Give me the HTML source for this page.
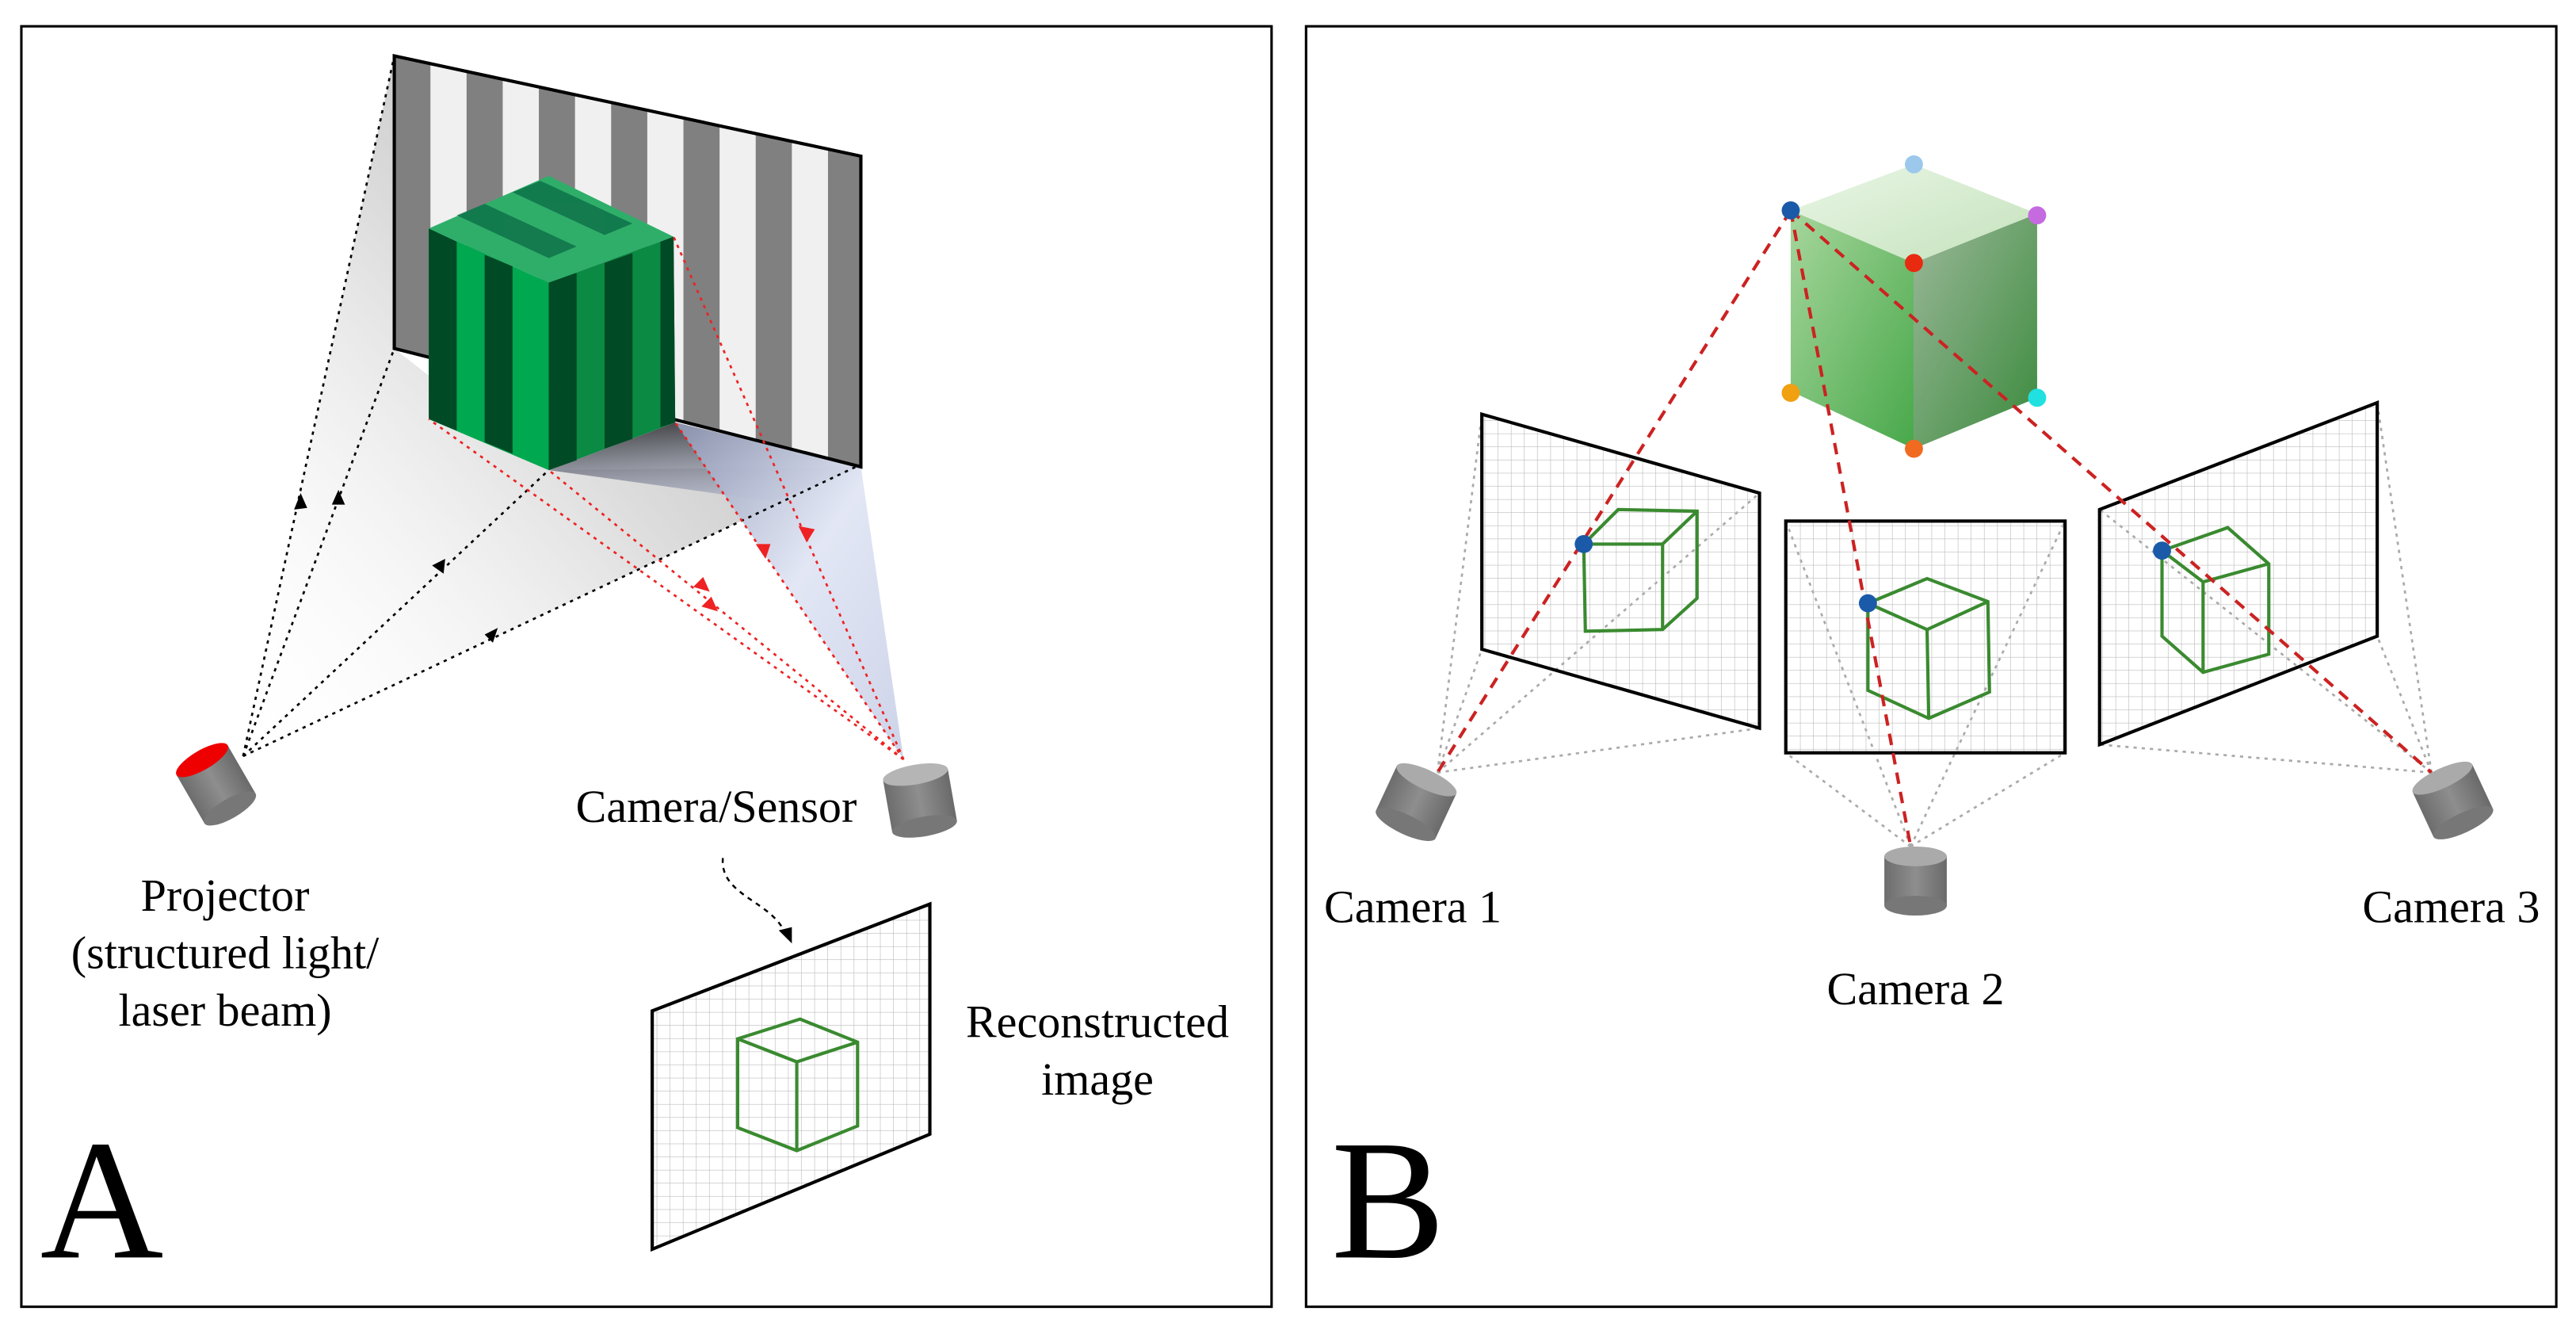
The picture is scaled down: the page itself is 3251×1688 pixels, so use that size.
<!DOCTYPE html>
<html><head><meta charset="utf-8"><style>
html,body{margin:0;padding:0;background:#fff}
svg{display:block}
text{font-family:"Liberation Serif",serif;fill:#000}
</style></head><body>
<svg width="3251" height="1688" viewBox="0 0 1568 814" preserveAspectRatio="none" xmlns="http://www.w3.org/2000/svg">
<defs>
<pattern id="grid" width="8" height="8" patternUnits="userSpaceOnUse">
<path d="M8 0V8M0 8H8" stroke="#bbb" stroke-width="0.6" fill="none"/>
</pattern>
<linearGradient id="shadowL" x1="1" y1="0" x2="0" y2="1">
<stop offset="0" stop-color="#999"/><stop offset="0.5" stop-color="#d6d6d6"/><stop offset="1" stop-color="#fff" stop-opacity="0"/>
</linearGradient>
<linearGradient id="floor" x1="0" y1="0" x2="0.3" y2="1">
<stop offset="0" stop-color="#333"/><stop offset="1" stop-color="#9aa0b8" stop-opacity="0.6"/>
</linearGradient>
<linearGradient id="camBeam" x1="0" y1="0" x2="1" y2="1">
<stop offset="0" stop-color="#9098b5"/><stop offset="0.5" stop-color="#dfe4f4"/><stop offset="1" stop-color="#c8cfe6"/>
</linearGradient>
<linearGradient id="gTop" x1="0" y1="0" x2="1" y2="1"><stop offset="0" stop-color="#eaf6e6"/><stop offset="1" stop-color="#c4e2bc"/></linearGradient>
<linearGradient id="gLeft" x1="0" y1="0" x2="1" y2="1"><stop offset="0" stop-color="#a6d69c"/><stop offset="1" stop-color="#48a84a"/></linearGradient>
<linearGradient id="gRight" x1="0" y1="0" x2="1" y2="1"><stop offset="0" stop-color="#9cb89a"/><stop offset="1" stop-color="#3a8a3c"/></linearGradient>
<linearGradient id="cyl" x1="0" y1="0" x2="1" y2="0"><stop offset="0" stop-color="#6d6d6d"/><stop offset="0.5" stop-color="#8e8e8e"/><stop offset="1" stop-color="#6a6a6a"/></linearGradient>
</defs>

<rect x="13" y="16" width="761" height="779" fill="#fff" stroke="#000" stroke-width="1.5"/>
<rect x="795" y="16" width="761" height="779" fill="#fff" stroke="#000" stroke-width="1.5"/>

<!-- ===== Panel A ===== -->
<polygon points="148,460 240,34 240,212 334,286 521,284" fill="url(#shadowL)" opacity="0.85"/>
<polygon points="334,286 411,257 524,284 470,305" fill="url(#floor)"/>
<polygon points="550,462 411,257 524,284" fill="url(#camBeam)" opacity="0.9"/>
<clipPath id="scr"><polygon points="240,34 524,95 524,284 240,212"/></clipPath>
<g clip-path="url(#scr)">
<rect x="240" y="30" width="290" height="260" fill="#f0f0f0"/>
<g fill="#808080">
<rect x="240" y="30" width="22" height="260"/><rect x="284" y="30" width="22" height="260"/>
<rect x="328" y="30" width="22" height="260"/><rect x="372" y="30" width="22" height="260"/>
<rect x="416" y="30" width="22" height="260"/><rect x="460" y="30" width="22" height="260"/>
<rect x="504" y="30" width="22" height="260"/>
</g>
<polygon points="411,257 524,284 524,300 411,300" fill="#333" opacity="0.7"/>
</g>
<polygon points="240,34 524,95 524,284 240,212" fill="none" stroke="#000" stroke-width="2"/>
<!-- cube A -->
<polygon points="261,139 334,107 410,144 334,172" fill="#2fae6a"/>
<polygon points="261,139 334,172 334,286 261,255" fill="#00a850"/>
<polygon points="334,172 410,144 411,257 334,286" fill="#0a8a42"/>
<g fill="#004a25">
<polygon points="261,139 278,147 278,262 261,255"/>
<polygon points="295,155 312,162 312,276 295,269"/>
<polygon points="334,172 351,166 351,280 334,286"/>
<polygon points="368,160 385,154 385,267 368,273"/>
<polygon points="402,147 410,144 411,257 402,260"/>
</g>
<g fill="#0a6a45" opacity="0.75">
<polygon points="278,131 295,124 351,150 334,157"/>
<polygon points="312,117 329,110 385,136 368,143"/>
</g>
<g stroke="#000" stroke-width="1.3" stroke-dasharray="2,3" fill="none">
<line x1="148" y1="460" x2="240" y2="34"/><line x1="148" y1="460" x2="240" y2="212"/>
<line x1="148" y1="460" x2="334" y2="286"/><line x1="148" y1="460" x2="521" y2="284"/>
</g>
<g fill="#000">
<polygon points="183,300 179,310 187,309"/><polygon points="206,298 202,307 210,307"/>
<polygon points="271,340 263,344 270,349"/><polygon points="303,382 295,386 300,391"/>
</g>
<g stroke="#e22" stroke-width="1.3" stroke-dasharray="2,3" fill="none">
<line x1="550" y1="462" x2="410" y2="144"/><line x1="550" y1="462" x2="411" y2="257"/>
<line x1="550" y1="462" x2="261" y2="255"/><line x1="550" y1="462" x2="334" y2="286"/>
</g>
<g fill="#e22">
<polygon points="491,330 486,320 496,322"/><polygon points="466,340 460,331 469,331"/>
<polygon points="437,372 427,369 433,363"/><polygon points="432,360 422,357 428,351"/>
</g>
<g transform="translate(132,478) rotate(-30)">
<rect x="-18" y="-18" width="36" height="34" fill="url(#cyl)"/>
<ellipse cx="0" cy="16" rx="18" ry="6" fill="#777"/>
<ellipse cx="0" cy="-18" rx="18" ry="6" fill="#e00"/>
</g>
<g transform="translate(560,487) rotate(-10)">
<rect x="-20" y="-16" width="40" height="32" fill="url(#cyl)"/>
<ellipse cx="0" cy="16" rx="20" ry="6" fill="#777"/>
<ellipse cx="0" cy="-16" rx="20" ry="6" fill="#b5b5b5"/>
</g>
<text x="436" y="500" font-size="28" text-anchor="middle">Camera/Sensor</text>
<path d="M440,522 C438,545 470,548 478,568" stroke="#000" stroke-width="1.2" stroke-dasharray="3,3" fill="none"/>
<polygon points="482,574 474,566 482,564" fill="#000"/>
<text x="137" y="554" font-size="28" text-anchor="middle">Projector</text>
<text x="137" y="589" font-size="28" text-anchor="middle">(structured light/</text>
<text x="137" y="624" font-size="28" text-anchor="middle">laser beam)</text>
<polygon points="397,615 566,550 566,690 397,760" fill="url(#grid)" stroke="#000" stroke-width="2"/>
<g stroke="#3a8a30" stroke-width="2" fill="none">
<polygon points="449,632 487,620 522,634 522,685 485,700 449,686"/>
<polyline points="449,632 485,646 522,634"/><line x1="485" y1="646" x2="485" y2="700"/>
</g>
<text x="668" y="631" font-size="28" text-anchor="middle">Reconstructed</text>
<text x="668" y="666" font-size="28" text-anchor="middle">image</text>
<text x="62" y="765" font-size="104" text-anchor="middle">A</text>

<!-- ===== Panel B ===== -->
<g stroke="#aaa" stroke-width="1.3" stroke-dasharray="2,3" fill="none">
<line x1="875" y1="470" x2="902" y2="252"/><line x1="875" y1="470" x2="1071" y2="300"/>
<line x1="875" y1="470" x2="902" y2="395"/><line x1="875" y1="470" x2="1071" y2="443"/>
<line x1="1163" y1="515" x2="1087" y2="317"/><line x1="1163" y1="515" x2="1257" y2="317"/>
<line x1="1163" y1="515" x2="1087" y2="458"/><line x1="1163" y1="515" x2="1257" y2="458"/>
<line x1="1480" y1="470" x2="1278" y2="310"/><line x1="1480" y1="470" x2="1447" y2="245"/>
<line x1="1480" y1="470" x2="1278" y2="453"/><line x1="1480" y1="470" x2="1447" y2="387"/>
</g>
<polygon points="902,252 1071,300 1071,443 902,395" fill="url(#grid)" stroke="#000" stroke-width="2"/>
<rect x="1087" y="317" width="170" height="141" fill="url(#grid)" stroke="#000" stroke-width="2"/>
<polygon points="1278,310 1447,245 1447,387 1278,453" fill="url(#grid)" stroke="#000" stroke-width="2"/>
<g stroke="#3a8a30" stroke-width="2" fill="none">
<polygon points="964,331 985,310 1033,311 1033,364 1012,383 965,384"/>
<polyline points="964,331 1012,331 1033,311"/><line x1="1012" y1="331" x2="1012" y2="383"/>
<polygon points="1137,367 1173,352 1210,366 1211,421 1174,437 1137,420"/>
<polyline points="1137,367 1173,383 1210,366"/><line x1="1173" y1="383" x2="1174" y2="437"/>
<polygon points="1316,335 1356,321 1381,343 1381,398 1341,409 1316,387"/>
<polyline points="1316,335 1341,354 1381,343"/><line x1="1341" y1="354" x2="1341" y2="409"/>
</g>
<polygon points="1090,128 1165,100 1240,130 1165,160" fill="url(#gTop)"/>
<polygon points="1090,128 1165,160 1165,273 1090,238" fill="url(#gLeft)"/>
<polygon points="1165,160 1240,130 1240,242 1165,273" fill="url(#gRight)"/>
<g stroke="#c22" stroke-width="2" stroke-dasharray="7,5" fill="none">
<line x1="1090" y1="128" x2="875" y2="470"/><line x1="1090" y1="128" x2="1163" y2="515"/>
<line x1="1090" y1="128" x2="1480" y2="470"/>
</g>
<circle cx="1090" cy="128" r="5.5" fill="#1a5aa8"/>
<circle cx="1165" cy="100" r="5.5" fill="#9cc8ec"/>
<circle cx="1240" cy="131" r="5.5" fill="#c66ae0"/>
<circle cx="1165" cy="160" r="5.5" fill="#e82a10"/>
<circle cx="1090" cy="239" r="5.5" fill="#f0a010"/>
<circle cx="1240" cy="242" r="5.5" fill="#20e0e0"/>
<circle cx="1165" cy="273" r="5.5" fill="#f06a20"/>
<circle cx="964" cy="331" r="5.5" fill="#1a5aa8"/>
<circle cx="1137" cy="367" r="5.5" fill="#1a5aa8"/>
<circle cx="1316" cy="335" r="5.5" fill="#1a5aa8"/>
<g transform="translate(862,488) rotate(25)">
<rect x="-20" y="-15" width="40" height="30" fill="url(#cyl)"/>
<ellipse cx="0" cy="15" rx="20" ry="6" fill="#777"/><ellipse cx="0" cy="-15" rx="20" ry="6" fill="#aaa"/>
</g>
<g transform="translate(1166,536)">
<rect x="-19" y="-15" width="38" height="30" fill="url(#cyl)"/>
<ellipse cx="0" cy="15" rx="19" ry="6" fill="#777"/><ellipse cx="0" cy="-15" rx="19" ry="6" fill="#aaa"/>
</g>
<g transform="translate(1493,487) rotate(-25)">
<rect x="-20" y="-15" width="40" height="30" fill="url(#cyl)"/>
<ellipse cx="0" cy="15" rx="20" ry="6" fill="#777"/><ellipse cx="0" cy="-15" rx="20" ry="6" fill="#aaa"/>
</g>
<text x="860" y="561" font-size="28" text-anchor="middle">Camera 1</text>
<text x="1166" y="611" font-size="28" text-anchor="middle">Camera 2</text>
<text x="1492" y="561" font-size="28" text-anchor="middle">Camera 3</text>
<text x="845" y="765" font-size="104" text-anchor="middle">B</text>
</svg>
</body></html>
